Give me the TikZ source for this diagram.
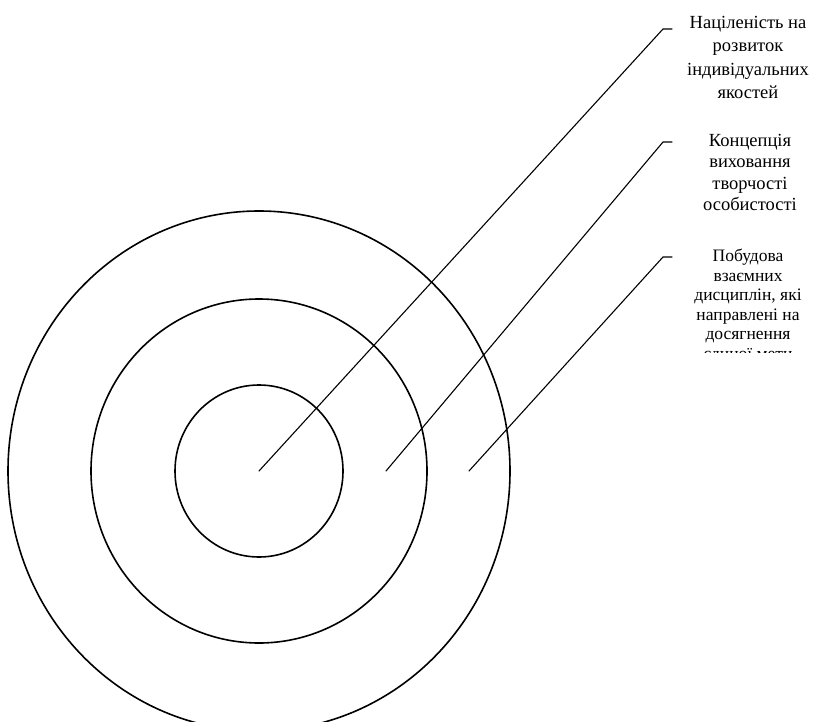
\documentclass[tikz,border=0pt]{standalone}
\usepackage{fontspec}
\setmainfont{Liberation Serif}
\begin{document}
\begin{tikzpicture}[x=1pt, y=-1pt, line cap=round,
  ring/.style={line width=1.6pt},
  leader/.style={line width=1.1pt},
  callout/.style={align=center, inner sep=0pt, anchor=north}]
  \useasboundingbox (0,0) rectangle (813,722);
  % 1. Три кола навколо спільного центру
  \coordinate (o) at (259,471);
  \draw[ring] (o) ellipse [x radius=84pt, y radius=86pt];
  \draw[ring] (o) ellipse [x radius=168pt, y radius=172pt];
  \draw[ring] (o) ellipse [x radius=251pt, y radius=260pt];

  % 2. Підписи праворуч
  \node[callout, font=\fontsize{18.5}{23.5}\selectfont] (t1) at (748,16) {Націленість на\\розвиток\\індивідуальних\\якостей};
  \node[callout, font=\fontsize{18.5}{21.5}\selectfont] (t2) at (750,134) {Концепція\\виховання\\творчості\\особистості};
  \begin{scope}
    \clip (600,240) rectangle (813,352); % останній рядок обрізано, як у джерелі
    \node[callout, font=\fontsize{17.5}{19.5}\selectfont] (t3) at (748,249) {Побудова\\взаємних\\дисциплін, які\\направлені на\\досягнення\\єдиної мети};
  \end{scope}

  % 3. Виноски від кіл до підписів
  \coordinate (s1) at (o);
  \coordinate (s2) at (386,471);
  \coordinate (s3) at (469,471);
  \coordinate (k1) at (663,29);  \coordinate (e1) at (672,29);
  \coordinate (k2) at (663,142); \coordinate (e2) at (672,142);
  \coordinate (k3) at (663,257); \coordinate (e3) at (672,257);
  \draw[leader] (s1) -- (k1) -- (e1);
  \draw[leader] (s2) -- (k2) -- (e2);
  \draw[leader] (s3) -- (k3) -- (e3);
\end{tikzpicture}
\end{document}
